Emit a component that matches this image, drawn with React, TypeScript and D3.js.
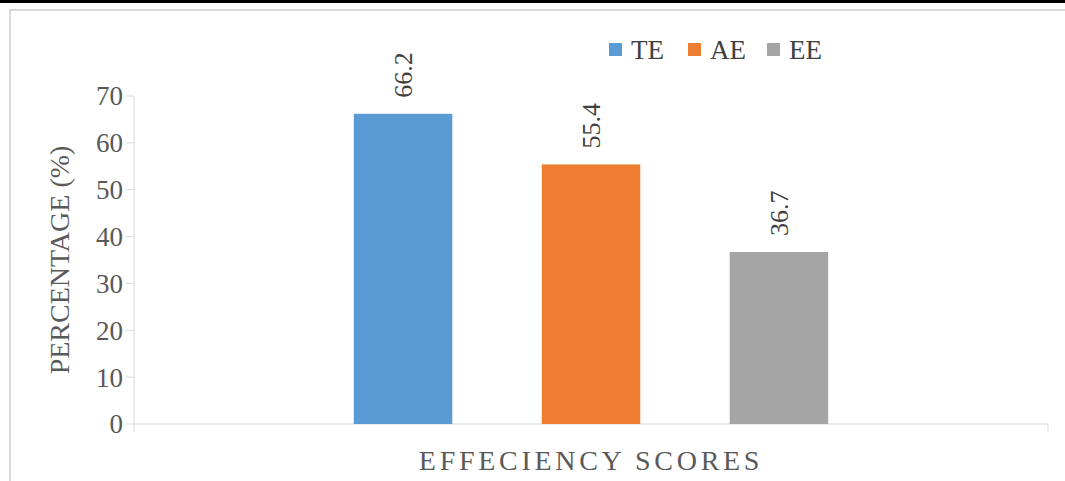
import React from "react";
import * as d3 from "d3";

const categories = ["EFFECIENCY SCORES"];
const seriesNames = ["TE", "AE", "EE"];
const seriesValues = [66.2, 55.4, 36.7];
const seriesColors = ["#5B9BD5", "#ED7D31", "#A5A5A5"];
const yTicks = [0, 10, 20, 30, 40, 50, 60, 70];
const yTitle = "PERCENTAGE (%)";
const xTitle = "EFFECIENCY SCORES";

const W = 1065;
const H = 481;
const M = { left: 134, right: 1048, top: 96, bottom: 424 };
const FONT = "'Liberation Serif', 'Times New Roman', serif";

export default function App() {
  const y = d3.scaleLinear().domain([0, 70]).range([M.bottom, M.top]);
  const xCat = d3.scaleBand().domain(categories).range([M.left, M.right]).paddingInner(0).paddingOuter(0);
  const catStart = xCat(categories[0]) as number;
  const catW = xCat.bandwidth();
  const groupPad = catW * 0.2405;
  const xSeries = d3
    .scaleBand()
    .domain(seriesNames)
    .range([catStart + groupPad, catStart + catW - groupPad])
    .paddingInner(0.476)
    .paddingOuter(0);
  const bw = xSeries.bandwidth();

  const legendX = [609, 688, 767];

  return (
    <svg
      width={W}
      height={H}
      style={{ position: "fixed", left: 0, top: 0, display: "block", background: "#fff", fontFamily: FONT }}
    >
      <rect x={0} y={0} width={W} height={H} fill="#fff" />
      <rect x={0} y={0} width={W} height={3} fill="#000" />
      <rect x={10} y={10} width={W + 20} height={H + 20} fill="none" stroke="#D9D9D9" strokeWidth={2} />

      {/* y axis */}
      <line x1={M.left} x2={M.left} y1={M.top} y2={M.bottom + 8} stroke="#D9D9D9" strokeWidth={1} />
      {yTicks.map((t) => (
        <g key={t}>
          <line x1={M.left - 8} x2={M.left} y1={y(t)} y2={y(t)} stroke="#D9D9D9" strokeWidth={1} />
          <text x={M.left - 11} y={y(t)} dy="0.35em" textAnchor="end" fontSize={27} fill="#595959" fontFamily={FONT}>
            {t}
          </text>
        </g>
      ))}

      {/* x axis */}
      <line x1={M.left} x2={M.right} y1={M.bottom} y2={M.bottom} stroke="#D9D9D9" strokeWidth={1} />
      <line x1={M.right} x2={M.right} y1={M.bottom} y2={M.bottom + 8} stroke="#D9D9D9" strokeWidth={1} />

      {/* bars */}
      {seriesNames.map((s, i) => {
        const x0 = xSeries(s) as number;
        const v = seriesValues[i];
        const cx = x0 + bw / 2 + 9;
        const ly = y(v) - 16;
        return (
          <g key={s}>
            <rect x={x0} y={y(v)} width={bw} height={y(0) - y(v)} fill={seriesColors[i]} />
            <text
              transform={`translate(${cx},${ly}) rotate(-90)`}
              textAnchor="start"
              fontSize={26}
              fill="#404040"
              fontFamily={FONT}
            >
              {v.toFixed(1)}
            </text>
          </g>
        );
      })}

      {/* legend */}
      {seriesNames.map((s, i) => (
        <g key={s}>
          <rect x={legendX[i]} y={43} width={13} height={13} fill={seriesColors[i]} />
          <text x={legendX[i] + 22} y={49.5} dy="0.35em" fontSize={27} fill="#404040" fontFamily={FONT}>
            {s}
          </text>
        </g>
      ))}

      {/* axis titles */}
      <text
        transform={`translate(${60 + 9},${(M.top + M.bottom) / 2}) rotate(-90)`}
        textAnchor="middle"
        fontSize={28}
        fill="#595959"
        fontFamily={FONT}
      >
        {yTitle}
      </text>
      <text
        x={(M.left + M.right) / 2}
        y={460}
        dy="0.35em"
        textAnchor="middle"
        fontSize={28}
        letterSpacing={3.7}
        fill="#595959"
        fontFamily={FONT}
      >
        {xTitle}
      </text>
    </svg>
  );
}
